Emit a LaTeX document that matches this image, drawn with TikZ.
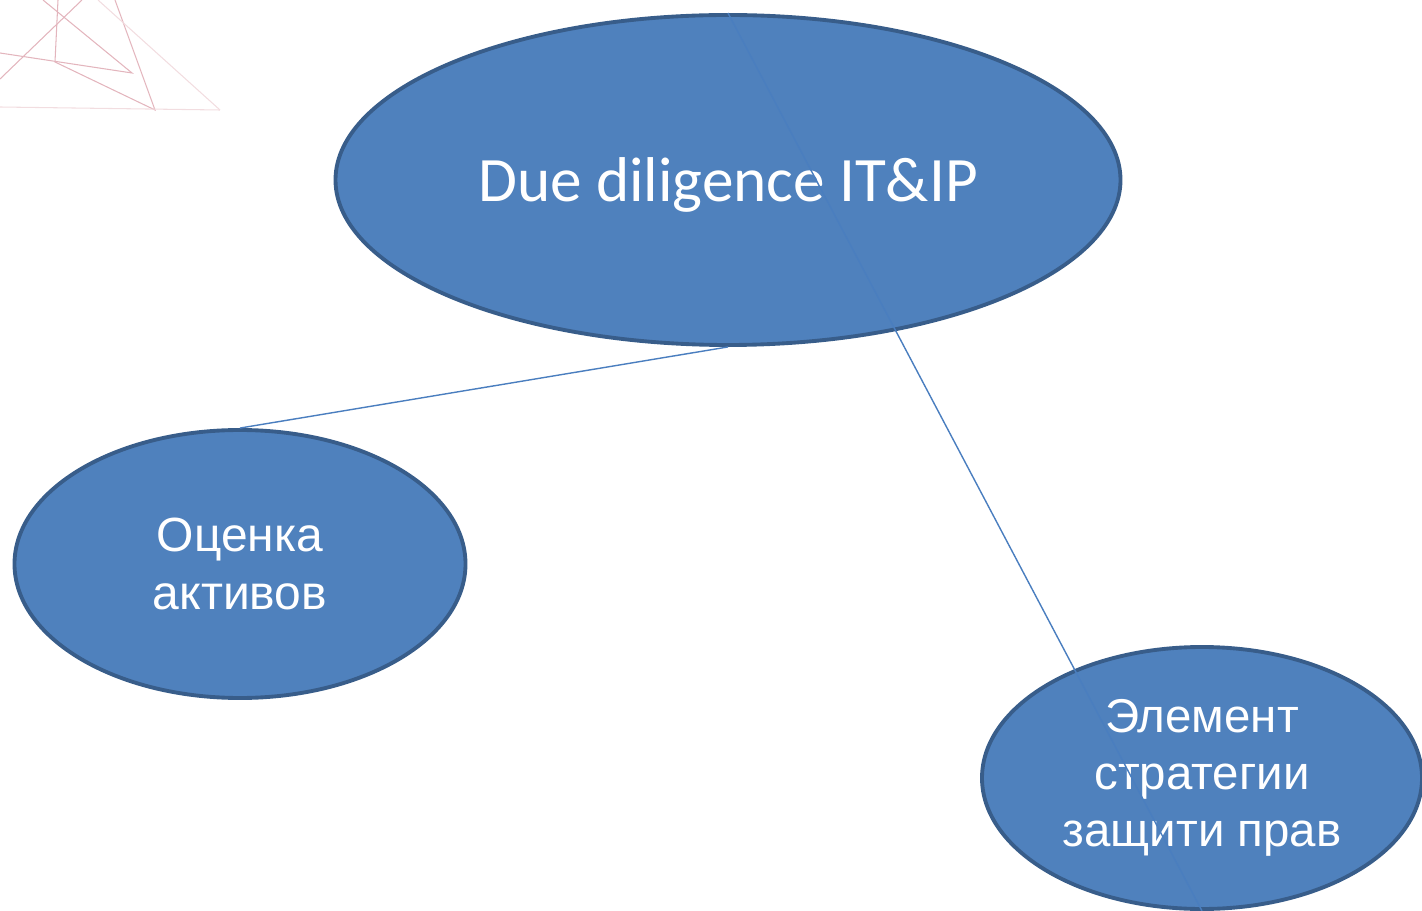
\documentclass[tikz,border=0pt]{standalone}
\usepackage{fontspec}
\setmainfont{Liberation Sans}
\newfontfamily\calibri{Carlito}
\usetikzlibrary{shapes.geometric}
\definecolor{bubblefill}{HTML}{4F81BD}
\definecolor{bubbleline}{HTML}{385D8A}
\definecolor{linkline}{HTML}{4A7EBF}
\definecolor{decor}{HTML}{E3B5BD}
\definecolor{decorpale}{HTML}{F2DDE0}
\tikzset{
  bubble/.style={ellipse, fill=bubblefill, draw=bubbleline, line width=2.2pt,
    text=white, align=center, inner sep=0pt},
  link/.style={draw=linkline, line width=0.8pt}
}
\begin{document}
\begin{tikzpicture}[x=0.2mm, y=-0.2mm]
\useasboundingbox (0,0) rectangle (1422,911);
% corner decoration
\draw[decor, line width=0.6pt] (0,53)--(132,73)--(43,0);
\draw[decor, line width=0.6pt] (0,79)--(82,0);
\draw[decor, line width=0.6pt] (58,0)--(55,62)--(155,110)--(115,0);
\draw[decorpale, line width=0.6pt] (98,0)--(220,110);
\draw[decorpale, line width=0.6pt] (0,107)--(220,110);
% bubbles
\node[bubble, minimum width=157mm, minimum height=66mm, text depth=0pt,
  font=\calibri\fontsize{36}{44}\selectfont] (dd) at (728,180) {Due diligence IT\&IP};
\node[bubble, minimum width=90.2mm, minimum height=53.6mm,
  font=\fontsize{27.3}{33}\selectfont] (ocenka) at (240,564) {Оценка\\активов};
\node[bubble, minimum width=88mm, minimum height=52.4mm,
  font=\fontsize{27}{32.4}\selectfont] (zashchita) at (1202,778) {Элемент\\стратегии\\защити прав};
% links
\draw[link] (dd.south) -- (ocenka.north);
\draw[link] (dd.north) -- (zashchita.south);
\end{tikzpicture}
\end{document}
